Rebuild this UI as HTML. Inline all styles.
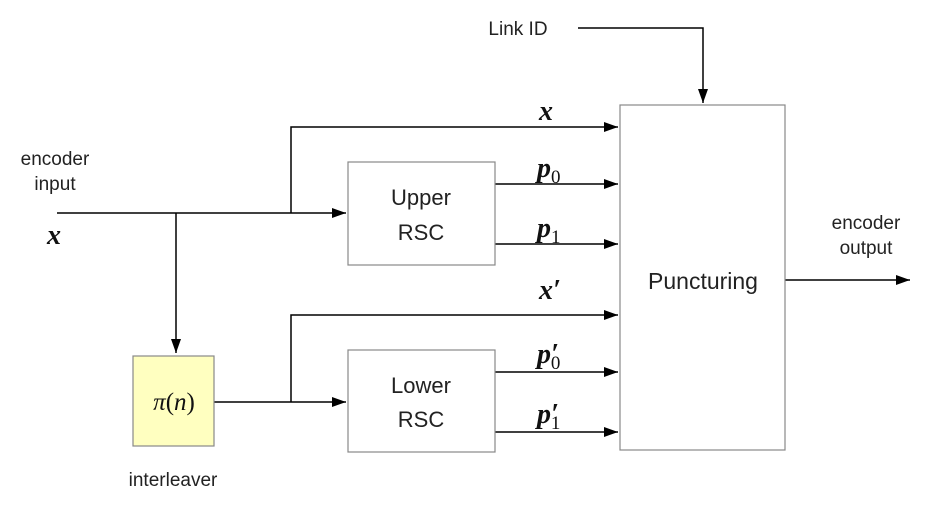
<!DOCTYPE html>
<html><head><style>
body{margin:0;background:#fff}
svg{display:block}
.t{font-family:"Liberation Sans",sans-serif;fill:#222}
.m{font-family:"Liberation Serif",serif;font-style:italic;font-weight:bold;fill:#111}
</style></head><body>
<svg width="936" height="511" viewBox="0 0 936 511">
<defs><marker id="a" markerWidth="14" markerHeight="10" refX="14" refY="5" orient="auto" markerUnits="userSpaceOnUse"><path d="M0,0L14,5L0,10z" fill="#000"/></marker></defs>
<g stroke="#000" stroke-width="1.5" fill="none">
<line x1="57" y1="213" x2="346" y2="213" marker-end="url(#a)"/>
<line x1="176" y1="213" x2="176" y2="353" marker-end="url(#a)"/>
<polyline points="291,213 291,127 618,127" marker-end="url(#a)"/>
<line x1="495" y1="184" x2="618" y2="184" marker-end="url(#a)"/>
<line x1="495" y1="244" x2="618" y2="244" marker-end="url(#a)"/>
<line x1="214" y1="402" x2="346" y2="402" marker-end="url(#a)"/>
<polyline points="291,402 291,315 618,315" marker-end="url(#a)"/>
<line x1="495" y1="372" x2="618" y2="372" marker-end="url(#a)"/>
<line x1="495" y1="432" x2="618" y2="432" marker-end="url(#a)"/>
<polyline points="578,28 703,28 703,103" marker-end="url(#a)"/>
<line x1="785" y1="280" x2="910" y2="280" marker-end="url(#a)"/>
</g>
<g stroke="#888" stroke-width="1.2">
<rect x="620" y="105" width="165" height="345" fill="#fff"/>
<rect x="348" y="162" width="147" height="103" fill="#fff"/>
<rect x="348" y="350" width="147" height="102" fill="#fff"/>
<rect x="133" y="356" width="81" height="90" fill="#ffffc0"/>
</g>
<text class="t" x="703" y="289" font-size="23" text-anchor="middle">Puncturing</text>
<text class="t" x="421" y="205" font-size="22" text-anchor="middle">Upper</text>
<text class="t" x="421" y="240" font-size="22" text-anchor="middle">RSC</text>
<text class="t" x="421" y="393" font-size="22" text-anchor="middle">Lower</text>
<text class="t" x="421" y="427" font-size="22" text-anchor="middle">RSC</text>
<text class="t" x="518" y="35" font-size="19" text-anchor="middle">Link ID</text>
<text class="t" x="55" y="165" font-size="19" text-anchor="middle">encoder</text>
<text class="t" x="55" y="190" font-size="19" text-anchor="middle">input</text>
<text class="t" x="866" y="229" font-size="19" text-anchor="middle">encoder</text>
<text class="t" x="866" y="254" font-size="19" text-anchor="middle">output</text>
<text class="t" x="173" y="486" font-size="19" text-anchor="middle">interleaver</text>
<text x="174" y="410" font-size="25" text-anchor="middle" font-family="Liberation Serif,serif" fill="#111"><tspan font-style="italic">π</tspan>(<tspan font-style="italic">n</tspan>)</text>
<text class="m" x="47" y="244" font-size="28">x</text>
<text class="m" x="539" y="120" font-size="28">x</text>
<text class="m" x="537" y="177" font-size="28">p<tspan font-size="19" font-style="normal" font-weight="normal" dy="6">0</tspan></text>
<text class="m" x="537" y="237" font-size="28">p<tspan font-size="19" font-style="normal" font-weight="normal" dy="6">1</tspan></text>
<text class="m" x="539" y="299" font-size="28">x′</text>
<text class="m" x="537" y="363" font-size="28">p′<tspan font-size="19" font-style="normal" font-weight="normal" dx="-8" dy="6">0</tspan></text>
<text class="m" x="537" y="423" font-size="28">p′<tspan font-size="19" font-style="normal" font-weight="normal" dx="-8" dy="6">1</tspan></text>
</svg>
</body></html>
